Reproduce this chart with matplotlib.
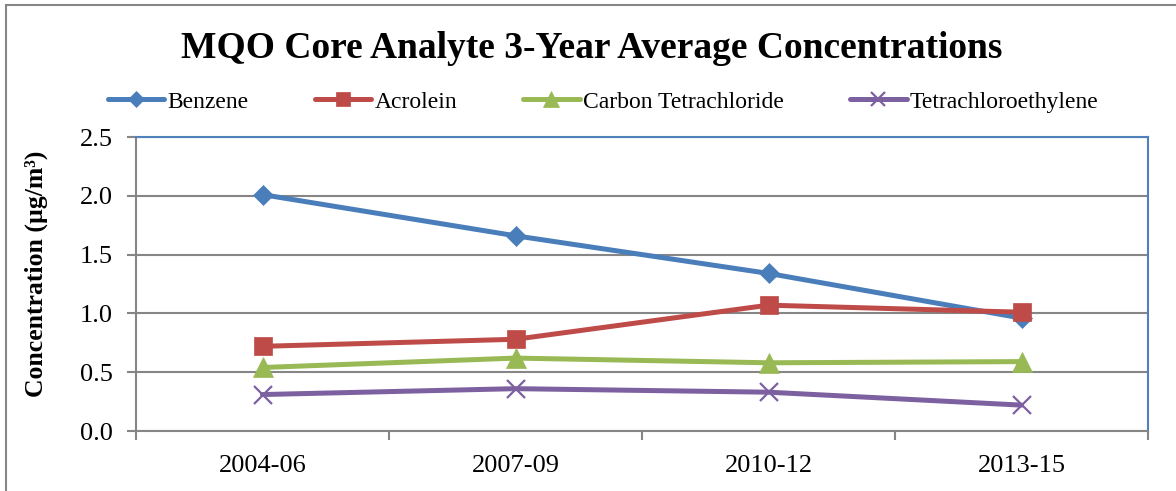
import matplotlib.pyplot as plt
from matplotlib.patches import Rectangle

# data
periods = ['2004-06', '2007-09', '2010-12', '2013-15']
benzene = [2.01, 1.66, 1.34, 0.96]
acrolein = [0.72, 0.78, 1.07, 1.01]
carbon_tet = [0.54, 0.62, 0.58, 0.59]
tetrachloro = [0.31, 0.36, 0.33, 0.22]

plt.rcParams['font.family'] = ['Liberation Serif', 'DejaVu Serif']

fig = plt.figure(figsize=(11.76, 4.91), dpi=100)
ax = fig.add_axes([136 / 1176, 1 - 431 / 491, (1148 - 136) / 1176, (431 - 137) / 491])

# outer chart frame
fig.patches.append(Rectangle((6 / 1176, -0.05), 1.2, 1 - 5 / 491 + 0.05,
                             transform=fig.transFigure, fill=False,
                             edgecolor='#868686', linewidth=1.5))

x = range(len(periods))
series = [
    ('Benzene', benzene, '#4A7EBB', 'D', 10),
    ('Acrolein', acrolein, '#BE4B48', 's', 13),
    ('Carbon Tetrachloride', carbon_tet, '#98B954', '^', 14),
    ('Tetrachloroethylene', tetrachloro, '#7D60A0', 'x', 13),
]
handles = []
for name, vals, col, mk, ms in series:
    h, = ax.plot(x, vals, color=col, linewidth=3.6, marker=mk, markersize=ms,
                 markeredgewidth=1.6 if mk == 'x' else 0.5,
                 markerfacecolor=col, markeredgecolor=col,
                 solid_capstyle='round', label=name)
    handles.append(h)

ax.set_xlim(-0.5, 3.5)
ax.set_ylim(0, 2.5)
ax.set_yticks([0, 0.5, 1.0, 1.5, 2.0, 2.5])
ax.set_yticklabels(['0.0', '0.5', '1.0', '1.5', '2.0', '2.5'])
ax.set_xticks([-0.5, 0.5, 1.5, 2.5, 3.5])
ax.set_xticklabels([])
ax.set_xticks(list(x), minor=True)
ax.set_xticklabels(periods, minor=True)

ax.grid(axis='y', color='#868686', linewidth=1.5)
ax.set_axisbelow(True)
for s in ['top', 'right']:
    ax.spines[s].set_color('#4F81BD')
    ax.spines[s].set_linewidth(1.5)
for s in ['left', 'bottom']:
    ax.spines[s].set_color('#868686')
    ax.spines[s].set_linewidth(1.5)

ax.tick_params(axis='y', which='major', direction='out', length=6.5, width=1.5,
               color='#868686', labelsize=19, pad=10.5)
ax.tick_params(axis='x', which='major', direction='out', length=6.5, width=1.5,
               color='#868686')
ax.tick_params(axis='x', which='minor', length=0, labelsize=19, pad=17)

fig.text(36 / 1176, 1 - 274 / 491, 'Concentration (µg/m³)', rotation=90,
         ha='center', va='center', fontsize=18.5, fontweight='bold')

fig.text(592 / 1176, 1 - 58 / 491, 'MQO Core Analyte 3-Year Average Concentrations',
         ha='center', va='baseline', fontsize=27, fontweight='bold')

leg = fig.legend(handles=handles, loc='center', bbox_to_anchor=(603 / 1176, 1 - 102 / 491),
                 ncol=4, frameon=False, fontsize=17, handlelength=2.4,
                 handletextpad=0.13, columnspacing=2.8, markerscale=0.8)

fig.savefig('out.png', dpi=100)
